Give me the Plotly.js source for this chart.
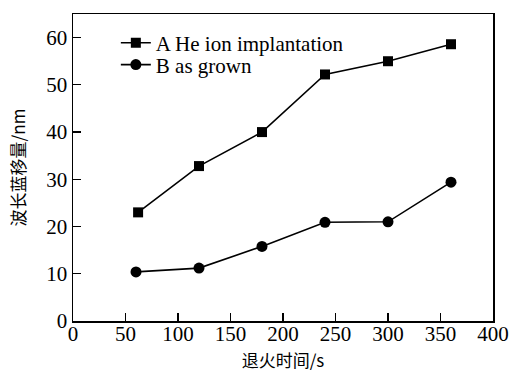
<!DOCTYPE html>
<html>
<head>
<meta charset="utf-8">
<script src="https://cdn.plot.ly/plotly-3.0.1.min.js"></script>
<style>
  html, body { margin: 0; padding: 0; background: #fff; }
  #chart { width: 518px; height: 372px; }
</style>
</head>
<body>
<div id="chart"></div>
<script>
// Annealing time (s) and blue shift of wavelength (nm)
const timeA = [62, 120, 180, 240, 300, 360];
const shiftA = [23.0, 32.8, 40.0, 52.2, 55.0, 58.6];
const timeB = [60, 120, 180, 240, 300, 360];
const shiftB = [10.4, 11.2, 15.8, 20.9, 21.0, 29.4];
const nameA = 'A He ion implantation';
const nameB = 'B as grown';
const xTicks = [0, 50, 100, 150, 200, 250, 300, 350, 400];
const yTicks = [0, 10, 20, 30, 40, 50, 60];

const serif = '"Liberation Serif", "Times New Roman", serif';
const cjk = '"Noto Sans CJK SC", sans-serif';

const traces = [
  {
    x: timeA, y: shiftA, name: nameA, type: 'scatter', mode: 'lines+markers',
    legend: 'legend',
    line: { color: '#000', width: 1.6 },
    marker: { symbol: 'square', size: 10, color: '#000' }
  },
  {
    x: timeB, y: shiftB, name: nameB, type: 'scatter', mode: 'lines+markers',
    legend: 'legend2',
    line: { color: '#000', width: 1.6 },
    marker: { symbol: 'circle', size: 11, color: '#000' }
  }
];

const axisCommon = {
  showgrid: false, zeroline: false, showline: true, linecolor: '#000', linewidth: 1.5,
  mirror: true, ticks: 'inside', ticklen: 8, tickwidth: 1.2, tickcolor: '#000',
  tickfont: { family: serif, size: 21, color: '#000' }
};

// one legend box per series so the two rows sit close together
const legendCommon = {
  x: 0.102, xanchor: 'left', yanchor: 'middle',
  bgcolor: 'rgba(0,0,0,0)', borderwidth: 0,
  font: { family: serif, size: 21, color: '#000' },
  itemwidth: 30
};

const layout = {
  width: 518, height: 372,
  margin: { l: 73, r: 25, t: 14, b: 51 },
  paper_bgcolor: '#fff', plot_bgcolor: '#fff',
  font: { family: serif, size: 21, color: '#000' },
  showlegend: true,
  legend: Object.assign({}, legendCommon, { y: 0.905 }),
  legend2: Object.assign({}, legendCommon, { y: 0.834 }),
  xaxis: Object.assign({}, axisCommon, {
    range: [0, 400], tickvals: xTicks, ticktext: xTicks.map(String),
    ticklabelstandoff: -7,
    title: { text: '退火时间/s', font: { family: cjk, size: 17, color: '#000' }, standoff: 20 }
  }),
  yaxis: Object.assign({}, axisCommon, {
    range: [0, 65], tickvals: yTicks, ticktext: yTicks.map(String),
    title: { text: '波长蓝移量/nm', font: { family: cjk, size: 17, color: '#000' }, standoff: 16 }
  })
};

Plotly.newPlot('chart', traces, layout, { displayModeBar: false, staticPlot: true });
</script>
</body>
</html>
